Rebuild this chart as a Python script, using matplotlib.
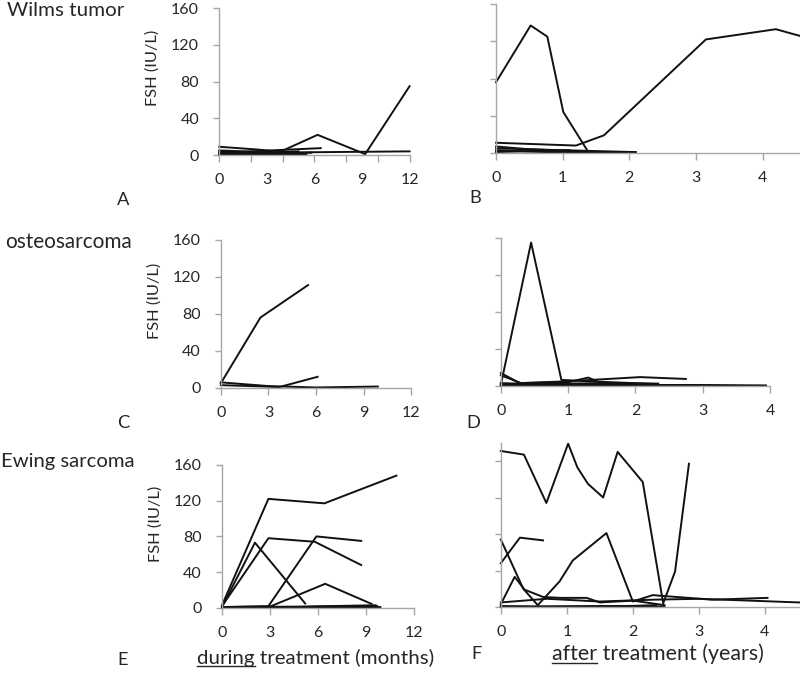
import matplotlib
matplotlib.use("Agg")
import matplotlib.pyplot as plt

plt.rcParams['font.family'] = ['Lato', 'DejaVu Sans']

# FSH curves, one list per patient
# Wilms tumor, during treatment (months)
wilms_during_x = [[0, 3.9, 6.2, 9.2, 12], [0, 2.4, 3.6], [0, 3.2, 6.4], [0, 5.5, 12],
                  [0, 3, 5.5], [0, 2.5, 4.8], [0, 3, 5.2], [0, 2.8, 5.8], [0, 3.1, 5]]
wilms_during_y = [[3, 4, 22, 1, 75], [9, 6, 4], [2, 5, 7.5], [2, 3, 4],
                  [1, 2, 1], [4, 3, 2], [0.5, 1, 0.5], [3, 1.5, 2.5], [5, 3, 4]]
# Wilms tumor, after treatment (years)
wilms_after_x = [[0, 0.52, 0.77, 1.01, 1.36], [0, 1.2, 1.62, 3.15, 4.2, 4.55],
                 [0, 1.0, 2.1], [0, 0.8, 2.0], [0, 0.5, 1.25], [0, 1.5, 2.05], [0, 0.4, 1.1]]
wilms_after_y = [[76, 137, 125, 44, 4], [11, 8, 19, 122, 133, 126],
                 [5, 3, 1], [3, 1, 0.5], [7, 4, 2], [2, 1, 0.5], [1, 2, 3]]
# osteosarcoma
osteo_during_x = [[0, 2.5, 5.5], [0, 3.7, 6.1], [0, 3, 6, 9.9]]
osteo_during_y = [[5, 76, 111], [3, 1, 12], [6, 2, 0.5, 1.5]]
osteo_after_x = [[0, 0.45, 0.9, 1.3, 2.3], [0, 0.28, 1.0, 2.07, 2.75],
                 [0, 0.3, 1.0, 1.3, 1.52, 2.0], [0, 0.5, 1.5, 2.34],
                 [0, 1, 2, 3, 3.94], [0, 0.7, 1.4, 1.9]]
osteo_after_y = [[1, 155, 6.5, 5, 2], [14, 3, 5, 9.5, 7.5],
                 [11.5, 3, 4, 9, 2, 1], [3, 2, 3, 2.5],
                 [0.5, 1, 1, 1, 0.5], [2, 1, 1, 0.5]]
# Ewing sarcoma
ewing_during_x = [[0, 2.9, 6.4, 10.9], [0, 2.9, 5.8, 8.7], [0, 2.06, 5.2], [0, 2.9, 5.9, 8.7],
                  [0, 3.0, 6.45, 9.35], [0, 5, 9.6], [0, 9.9], [3, 6, 9.7]]
ewing_during_y = [[3, 122, 117, 148], [2, 78, 74, 48], [1, 73, 5], [1, 2, 80, 75],
                  [1, 1.5, 27, 4.5], [1, 1.5, 3], [0.5, 1], [0.5, 1.5, 2]]
ewing_after_x = [[0, 0.35, 0.69, 1.02, 1.16, 1.32, 1.55, 1.77, 2.15, 2.46, 2.64, 2.85],
                 [0, 0.29, 0.64],
                 [0, 0.34, 0.56, 0.89, 1.09, 1.6, 2.0, 2.3, 3.2, 4.04],
                 [0, 0.21, 0.36, 0.64, 0.9, 1.3, 1.5, 2.0, 2.48],
                 [0, 0.7, 1.5, 2.3, 3.0, 4.52],
                 [0, 0.5, 1.5, 1.9, 2.35],
                 [0, 1.0, 2.0, 2.48]]
ewing_after_y = [[171, 167, 114, 179, 153, 135, 120, 170, 137, 4, 39, 157],
                 [48, 76, 73],
                 [74, 20, 2, 28, 51, 81, 6, 13, 8, 10],
                 [3, 33, 19, 11, 10, 10, 5, 7, 2],
                 [5, 9, 6, 8, 9, 5],
                 [1, 0.5, 1, 1, 2],
                 [0.5, 0.5, 1, 0.5]]

y_ticks = [0, 40, 80, 120, 160]
month_labels = [0, 3, 6, 9, 12]
year_ticks = [0, 1, 2, 3, 4]

AXIS = '#a6a6a6'
TXT = '#262626'

fig = plt.figure(figsize=(8, 6.77), dpi=100)
renderer = fig.canvas.get_renderer()


def fit_size(text, width_px, start=14):
    # font size that gives the text the width seen in the reference
    probe = fig.text(0, 0, text, fontsize=start)
    w = probe.get_window_extent(renderer).width
    probe.remove()
    return start * width_px / w


TICK_FS = fit_size('160', 28)
LABEL_FS = fit_size('FSH (IU/L)', 76)


def make_axes(rect):
    ax = fig.add_axes(rect)
    for s in ['top', 'right']:
        ax.spines[s].set_visible(False)
    for s in ['left', 'bottom']:
        ax.spines[s].set_color(AXIS)
        ax.spines[s].set_linewidth(1.0)
    ax.tick_params(colors=AXIS, labelcolor=TXT, labelsize=TICK_FS, width=1.0)
    ax.tick_params(axis='x', length=5, pad=8)
    ax.tick_params(axis='y', length=4, pad=10.5)
    return ax


def draw(ax, xs, ys):
    for x, y in zip(xs, ys):
        ax.plot(x, y, color='#111111', lw=1.4, clip_on=False)


def left_panel(rect, xs, ys):
    ax = make_axes(rect)
    draw(ax, xs, ys)
    ax.set_xlim(0, 12)
    ax.set_ylim(0, 160)
    ax.set_xticks(month_labels)
    ax.set_yticks(y_ticks)
    ax.set_ylabel('FSH (IU/L)', fontsize=LABEL_FS, color=TXT)
    ax.yaxis.set_label_coords(-0.31, 0.59)
    return ax


def right_panel(rect, xs, ys, xmax, ymax=160):
    ax = make_axes(rect)
    draw(ax, xs, ys)
    ax.set_xlim(0, xmax)
    ax.set_ylim(0, ymax)
    ax.set_xticks(year_ticks)
    ax.set_yticks(y_ticks)
    ax.set_yticklabels([])
    return ax


# A: tick marks every 2 months, labels every 3
axA = left_panel([0.274, 0.771, 0.238, 0.217], wilms_during_x, wilms_during_y)
axA.xaxis.remove_overlapping_locs = False
axA.set_xticks(month_labels)
axA.set_xticklabels([str(m) for m in month_labels])
axA.tick_params(axis='x', which='major', length=0, pad=13)
axA.set_xticks(range(0, 13, 2), minor=True)
axA.tick_params(axis='x', which='minor', length=5, width=1.0, colors=AXIS)

right_panel([0.62, 0.774, 0.379, 0.22], wilms_after_x, wilms_after_y, 4.55)
left_panel([0.276, 0.427, 0.238, 0.219], osteo_during_x, osteo_during_y)
right_panel([0.626, 0.43, 0.3365, 0.2186], osteo_after_x, osteo_after_y, 4.0)
left_panel([0.2775, 0.102, 0.24, 0.2113], ewing_during_x, ewing_during_y)
right_panel([0.626, 0.1034, 0.373, 0.2426], ewing_after_x, ewing_after_y, 4.52, ymax=180)

# row titles and panel letters
for title, px, py, w in [('Wilms tumor', 7, 11, 117), ('osteosarcoma', 5, 242, 127),
                         ('Ewing sarcoma', 1, 462, 134)]:
    fig.text(px / 800, 1 - py / 677, title, fontsize=fit_size(title, w), color=TXT, va='center')

LETTER_FS = fit_size('A', 12.5)
for letter, px, py in [('A', 123, 200), ('B', 475, 198), ('C', 123, 423),
                       ('D', 473, 423), ('E', 123, 660), ('F', 477, 654)]:
    fig.text(px / 800, 1 - py / 677, letter, fontsize=LETTER_FS, color=TXT, ha='center', va='center')


def underlined(px, py, first, rest, width_px):
    fs = fit_size(first + rest, width_px)
    t = fig.text(px / 800, 1 - py / 677, first + rest, fontsize=fs, color=TXT, va='center')
    probe = fig.text(px / 800, 1 - py / 677, first, fontsize=fs, va='center', alpha=0)
    bb = probe.get_window_extent(renderer)
    full = t.get_window_extent(renderer)
    x0, x1 = bb.x0 / 800, bb.x1 / 800
    yl = (full.y0 + 1) / 677
    fig.add_artist(plt.Line2D([x0, x1], [yl, yl], color=TXT, lw=1.0))


underlined(197, 658, 'during', ' treatment (months)', 236)
underlined(552, 654, 'after', ' treatment (years)', 211)

fig.savefig('out.png', dpi=100)
